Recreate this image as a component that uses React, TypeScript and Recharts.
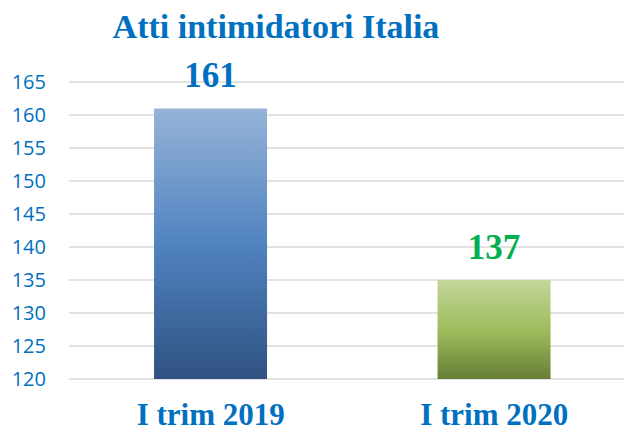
import { BarChart, Bar, XAxis, YAxis, CartesianGrid, Cell, LabelList } from 'recharts';

const categories = ['I trim 2019', 'I trim 2020'];
const barValues = [161, 135];
const valueLabels = ['161', '137'];
const yTicks = [120, 125, 130, 135, 140, 145, 150, 155, 160, 165];

const labelColors = ['#0070C0', '#00B050'];
const gradientIds = ['gradBlue', 'gradGreen'];

const data = categories.map((name, i) => ({ name, value: barValues[i], label: valueLabels[i] }));

const serif = '"Liberation Serif", "Times New Roman", serif';

function XTick(props: any) {
  const { x, y, payload } = props;
  return (
    <text x={x} y={y} dy={46} textAnchor="middle" fill="#0070C0" fontFamily={serif} fontWeight="bold" fontSize={31}>
      {payload.value}
    </text>
  );
}

function ValueLabel(props: any) {
  const { x, y, width, index } = props;
  return (
    <text
      x={x + width / 2}
      y={y - 21}
      textAnchor="middle"
      fill={labelColors[index]}
      fontFamily={serif}
      fontWeight="bold"
      fontSize={35}
    >
      {valueLabels[index]}
    </text>
  );
}

export default function App() {
  return (
    <div style={{ position: 'absolute', left: 0, top: 0, width: 624, height: 434, overflow: 'hidden', background: '#fff' }}>
      <BarChart width={636} height={434} data={data} margin={{ top: 82, right: 0, bottom: 0, left: 0 }} barCategoryGap="30%">
        <defs>
          <linearGradient id="gradBlue" x1="0" y1="0" x2="0" y2="1">
            <stop offset="0%" stopColor="#95B3D7" />
            <stop offset="50%" stopColor="#5083C0" />
            <stop offset="100%" stopColor="#2F5282" />
          </linearGradient>
          <linearGradient id="gradGreen" x1="0" y1="0" x2="0" y2="1">
            <stop offset="0%" stopColor="#C4D69B" />
            <stop offset="50%" stopColor="#9DBD5C" />
            <stop offset="100%" stopColor="#687F36" />
          </linearGradient>
        </defs>
        <CartesianGrid vertical={false} stroke="#D9D9D9" strokeWidth={1.5} />
        <XAxis dataKey="name" axisLine={false} tickLine={false} tickSize={0} tickMargin={0} height={55} tick={<XTick />} interval={0} />
        <YAxis
          domain={[120, 165]}
          ticks={yTicks}
          width={69}
          axisLine={false}
          tickLine={false}
          tickSize={0}
          tickMargin={23}
          tick={{ fill: '#0070C0', fontSize: 20, fontFamily: '"Open Sans", sans-serif' }}
        />
        <Bar dataKey="value" isAnimationActive={false}>
          {data.map((d, i) => (
            <Cell key={d.name} fill={`url(#${gradientIds[i]})`} />
          ))}
          <LabelList dataKey="label" content={<ValueLabel />} />
        </Bar>
      </BarChart>
      <svg width={624} height={60} style={{ position: 'absolute', left: 0, top: 0 }}>
        <text x={276} y={38} textAnchor="middle" fill="#0070C0" fontFamily={serif} fontWeight="bold" fontSize={34}>
          Atti intimidatori Italia
        </text>
      </svg>
    </div>
  );
}
